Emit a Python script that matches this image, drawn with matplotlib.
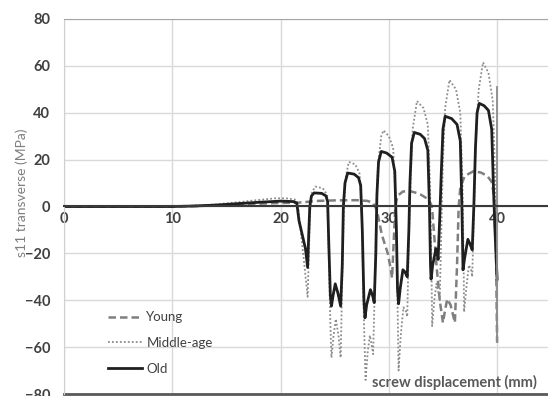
import matplotlib
matplotlib.use("Agg")
import matplotlib.pyplot as plt

# ---- data ----
old_x = [0, 10, 12, 14, 16, 18, 20, 21.2, 21.5, 21.7, 22.0, 22.3, 22.5, 22.6, 22.7, 22.85, 23.1, 23.8, 24.2, 24.35,
         24.45, 24.6, 24.7, 24.85, 25.05, 25.3, 25.55, 25.7, 25.8, 25.95, 26.2, 26.8, 27.2, 27.4, 27.55, 27.7, 27.8,
         27.95, 28.3, 28.5, 28.65, 28.8, 28.9, 29.05, 29.3, 29.8, 30.3, 30.55, 30.7, 30.8, 30.9, 31.05, 31.3, 31.5,
         31.7, 31.85, 31.95, 32.1, 32.35, 32.9, 33.3, 33.6, 33.75, 33.85, 33.9, 34.05, 34.35, 34.45, 34.55, 34.7,
         34.85, 35.0, 35.2, 35.8, 36.3, 36.6, 36.75, 36.85, 37.0, 37.3, 37.5, 37.7, 37.85, 38.0, 38.15, 38.35, 38.8,
         39.2, 39.5, 39.65, 39.8, 40.0]
old_y = [0, 0, 0.2, 0.6, 1.2, 1.8, 2.3, 2.1, 1.5, -6, -12, -18, -26, -12, 0, 4.5, 5.8, 5.6, 4.5, 2,
         -15, -38, -42.5, -38, -33, -37, -42.5, -25, 0, 10, 14.3, 13.8, 12.3, 9, -10, -40, -47.5,
         -42, -35.5, -38, -41, -20, 5, 19, 23.5, 22.8, 21, 15, -10, -35, -41.5, -35, -27, -28,
         -30, -10, 10, 27, 31.6, 30.8, 29, 24, 0, -25, -31, -25, -18, -19, -22.6, -5,
         15, 33, 38.5, 37.5, 35, 28, 0, -27, -22, -14, -16, -18.5, 0, 25, 40, 44, 43,
         41, 33, 10, -10, -31]

mid_x = [0, 10, 12, 14, 16, 18, 19.5, 20.5, 21.3, 21.6, 21.9, 22.2, 22.5, 22.65, 22.75, 22.9, 23.2, 23.9, 24.3,
         24.45, 24.6, 24.7, 24.9, 25.1, 25.35, 25.55, 25.7, 25.85, 26.0, 26.3, 26.9, 27.3, 27.5, 27.65, 27.85,
         28.05, 28.25, 28.45, 28.55, 28.7, 28.85, 29.0, 29.3, 29.5, 30.0, 30.4, 30.65, 30.8, 30.9, 31.1, 31.35,
         31.6, 31.7, 31.85, 32.0, 32.2, 32.6, 33.2, 33.6, 33.8, 33.95, 34.0, 34.2, 34.4, 34.6, 34.7, 34.85, 35.0,
         35.2, 35.6, 36.2, 36.6, 36.8, 36.9, 36.95, 37.15, 37.4, 37.6, 37.7, 37.85, 38.0, 38.3, 38.7, 39.2, 39.6,
         39.8, 39.95, 40.0]
mid_y = [0, 0, 0.3, 0.9, 1.8, 2.8, 3.5, 3.5, 3.0, 1, -12, -25, -38.5, -15, 0, 6, 8.5, 7.8, 5,
         -20, -50, -64.5, -55, -48, -55, -64.5, -30, 0, 12, 19, 18, 14, 0, -40, -74,
         -62, -55, -60, -63, -35, 0, 18, 30, 32.5, 30, 25, 0, -40, -70, -55, -43,
         -45, -47, -15, 10, 33, 45, 42, 35, 10, -30, -51, -40, -33, -37, -40, -10, 20,
         42, 54, 50, 40, 10, -20, -45, -35, -25, -27, -30, -5, 25, 50, 61.5, 57, 45,
         15, -30, -58]

young_x = [0, 10, 12, 14, 16, 18, 20, 21.5, 22.5, 23.5, 25, 27, 28, 28.5, 28.9, 29.35, 29.9, 30.15, 30.3, 30.45,
           30.6, 30.8, 31.3, 32.0, 32.8, 33.5, 33.9, 34.0, 34.4, 34.7, 35.0, 35.2, 35.4, 35.7, 36.1, 36.3, 36.45,
           36.6, 37.0, 37.8, 38.5, 39.1, 39.5, 39.7, 39.9, 40.0]
young_y = [0, 0, 0.2, 0.4, 0.8, 1.2, 1.5, 1.6, 2.0, 2.4, 2.6, 2.7, 2.4, 1.7, -1.5, -12, -20, -26, -30.5, -15,
           0, 4.5, 6.4, 6.5, 5.5, 3.5, 1, -1, -25, -40, -49.6, -44, -39.5, -42, -49.5, -25, 0,
           8, 13, 15, 14.5, 13, 10.5, 5, -20, -58]

# final vertical spike at the end of the run (grey solid)
spike_x = [40.0, 40.0]
spike_y = [-58, 51]

series_labels = ["Young", "Middle-age", "Old"]
x_ticks = [0, 10, 20, 30, 40]
y_ticks = [-80, -60, -40, -20, 0, 20, 40, 60, 80]

plt.rcParams['font.family'] = ['Lato', 'DejaVu Sans']

fig = plt.figure(figsize=(5.48, 3.96), dpi=100)
ax = fig.add_axes([64 / 548, 2 / 396, 1 - 64 / 548, 375 / 396])

ax.plot(young_x, young_y, color='#7f7f7f', lw=1.8, linestyle=(0, (3, 1.6)), label=series_labels[0])
ax.plot(mid_x, mid_y, color='#8c8c8c', lw=1.3, linestyle=(0, (1, 1.2)), label=series_labels[1])
ax.plot(old_x, old_y, color='#1f1f1f', lw=2.0, label=series_labels[2])
ax.plot(spike_x, spike_y, color='#8c8c8c', lw=1.3)

ax.set_xlim(0, 44.7)
ax.set_ylim(-80, 80)
ax.set_xticks(x_ticks)
ax.set_yticks(y_ticks)
ax.grid(True, color='#d9d9d9', lw=1)
ax.set_axisbelow(True)

ax.spines['bottom'].set_position(('data', 0))
ax.spines['bottom'].set_color('#3a3a3a')
ax.spines['bottom'].set_linewidth(1.5)
ax.spines['top'].set_color('#a6a6a6')
ax.spines['left'].set_color('#d0d0d0')
ax.spines['right'].set_visible(False)
ax.axhline(-80, color='#595959', lw=2, clip_on=False)

ax.tick_params(axis='both', length=0, labelsize=10.5, labelcolor='#404040')
ax.tick_params(axis='y', pad=10)
ax.tick_params(axis='x', pad=4)
for lab in ax.get_xticklabels() + ax.get_yticklabels():
    lab.set_fontweight('bold')

fig.text(22 / 548, 1 - 193 / 396, "s11 transverse (MPa)", rotation=90, ha='center', va='center',
         fontsize=10, color='#7f7f7f')
fig.text(537 / 548, 1 - 382 / 396, "screw displacement (mm)", ha='right', va='center',
         fontsize=10.5, fontweight='bold', color='#595959')

leg = ax.legend(loc='upper left', bbox_to_anchor=(0.08, 0.235), frameon=False, fontsize=9.5,
                handlelength=2.6, handletextpad=0.3, labelspacing=1.05, borderaxespad=0)
for t in leg.get_texts():
    t.set_color('#404040')

fig.savefig("out.png", dpi=100)
